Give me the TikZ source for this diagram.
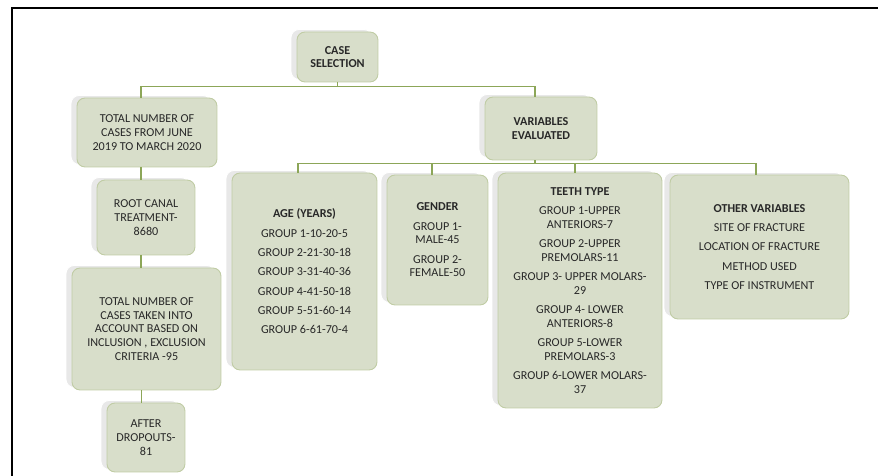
\documentclass[tikz,border=0pt]{standalone}
\usepackage{fontspec}
\setmainfont{Carlito}
\usetikzlibrary{shadows}
\definecolor{boxfill}{RGB}{216,222,202}
\definecolor{boxline}{RGB}{192,204,164}
\definecolor{connline}{RGB}{140,166,88}
\definecolor{boxtext}{RGB}{40,40,40}
\begin{document}
\begin{tikzpicture}[x=0.02cm,y=-0.02cm,
  stepbox/.style={draw=boxline, fill=boxfill, rounded corners=0.16cm, align=center,
    text=boxtext, inner sep=1pt, line width=0.5pt,
    font=\fontsize{6.9}{7.8}\selectfont,
    general shadow={shadow xshift=-0.12cm, shadow yshift=0.05cm, fill=black!9, draw=white, rounded corners=0.16cm}},
  conn/.style={draw=connline, line width=1pt}]
\useasboundingbox (0,0) rectangle (878,476);
\draw[line width=1.4pt] (12,480) -- (12,8) -- (882,8);

\node[stepbox, minimum width=1.62cm, minimum height=1cm] (case) at (337.5,57) {\textbf{CASE}\\\textbf{SELECTION}};
\node[stepbox, minimum width=2.8cm, minimum height=1.38cm] (total) at (147,132.5) {TOTAL NUMBER OF\\CASES FROM JUNE\\2019 TO MARCH 2020};
\node[stepbox, minimum width=1.96cm, minimum height=1.5cm] (root) at (146,217.5) {ROOT CANAL\\TREATMENT-\\8680};
\node[stepbox, minimum width=2.98cm, minimum height=2.44cm] (taken) at (146.5,329) {TOTAL NUMBER OF\\CASES TAKEN INTO\\ACCOUNT BASED ON\\INCLUSION , EXCLUSION\\CRITERIA -95};
\node[stepbox, minimum width=1.56cm, minimum height=1.38cm] (after) at (146,437.5) {AFTER\\DROPOUTS-\\81};
\node[stepbox, minimum width=2.24cm, minimum height=1.26cm] (var) at (541,128.5) {\textbf{VARIABLES}\\\textbf{EVALUATED}};

\node[stepbox, minimum width=2.9cm, minimum height=3.94cm] (age) at (304.5,271.5) {\textbf{AGE (YEARS)}\\[3.2pt]GROUP 1-10-20-5\\[3.2pt]GROUP 2-21-30-18\\[3.2pt]GROUP 3-31-40-36\\[3.2pt]GROUP 4-41-50-18\\[3.2pt]GROUP 5-51-60-14\\[3.2pt]GROUP 6-61-70-4};
\node[stepbox, minimum width=2.02cm, minimum height=2.6cm] (gender) at (437.5,240) {\textbf{GENDER}\\[3.2pt]GROUP 1-\\MALE-45\\[3.2pt]GROUP 2-\\FEMALE-50};
\node[stepbox, minimum width=3.28cm, minimum height=4.7cm] (teeth) at (580,290.5) {\textbf{TEETH TYPE}\\[3.2pt]GROUP 1-UPPER\\ANTERIORS-7\\[3.2pt]GROUP 2-UPPER\\PREMOLARS-11\\[3.2pt]GROUP 3- UPPER MOLARS-\\29\\[3.2pt]GROUP 4- LOWER\\ANTERIORS-8\\[3.2pt]GROUP 5-LOWER\\PREMOLARS-3\\[3.2pt]GROUP 6-LOWER MOLARS-\\37};
\node[stepbox, minimum width=3.58cm, minimum height=2.88cm] (other) at (759.5,247) {\textbf{OTHER VARIABLES}\\[3.2pt]SITE OF FRACTURE\\[3.2pt]LOCATION OF FRACTURE\\[3.2pt]METHOD USED\\[3.2pt]TYPE OF INSTRUMENT};

% top level
\draw[conn] (case.south) -- ++(0,5);
\draw[conn] ([xshift=-0.12cm]total.north) -- ++(0,-11) -| ([xshift=-0.12cm]var.north);
% left chain
\draw[conn] ([xshift=-0.12cm]total.south) -- ([xshift=-0.12cm]total.south |- root.north);
\draw[conn] ([xshift=-0.1cm]root.south) -- ([xshift=-0.1cm]root.south |- taken.north);
\draw[conn] ([xshift=-0.1cm]taken.south) -- ([xshift=-0.1cm]taken.south |- after.north);
% variables
\draw[conn] ([xshift=-0.12cm]var.south) -- ++(0,4);
\draw[conn] ([xshift=-0.13cm]age.north) -- ++(0,-9) -| ([xshift=-0.07cm]other.north);
\draw[conn] ([xshift=-0.11cm]gender.north) -- ++(0,-11);
\draw[conn] ([xshift=-0.1cm]teeth.north) -- ++(0,-9);
\end{tikzpicture}
\end{document}
